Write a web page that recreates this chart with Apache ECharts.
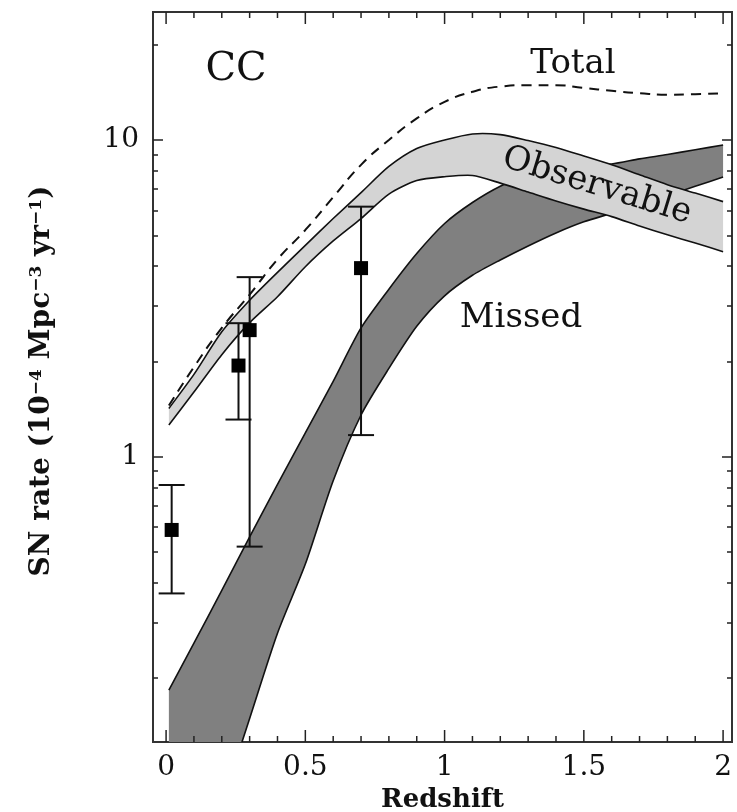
<!DOCTYPE html>
<html>
<head>
<meta charset="utf-8">
<script src="https://cdn.jsdelivr.net/npm/echarts@6/dist/echarts.min.js"></script>
<style>
  html, body { margin: 0; padding: 0; background: #fff; }
  #chart { width: 737px; height: 812px; }
</style>
</head>
<body>
<div id="chart"></div>
<script>
// redshift grid used by all the model curves
const redshift = [0.01, 0.1, 0.2, 0.3, 0.4, 0.5, 0.6, 0.7, 0.8, 0.9, 1.0, 1.1, 1.2, 1.3, 1.4, 1.5, 1.6, 1.7, 1.8, 1.9, 2.0];
const totalRate = [1.45, 1.92, 2.55, 3.25, 4.2, 5.2, 6.6, 8.35, 10.0, 11.7, 13.2, 14.2, 14.75, 14.9, 14.9, 14.6, 14.3, 14.05, 13.9, 13.95, 14.05];
const observableHigh = [1.42, 1.82, 2.48, 3.12, 3.82, 4.65, 5.65, 6.82, 8.25, 9.4, 10.0, 10.45, 10.4, 9.96, 9.47, 8.9, 8.35, 7.77, 7.23, 6.8, 6.39];
const observableLow = [1.26, 1.6, 2.1, 2.65, 3.2, 3.98, 4.8, 5.65, 6.75, 7.45, 7.66, 7.73, 7.31, 6.85, 6.42, 6.05, 5.73, 5.35, 5.02, 4.73, 4.44];
const missedHigh = [0.183, 0.258, 0.378, 0.558, 0.817, 1.19, 1.73, 2.55, 3.38, 4.38, 5.45, 6.35, 7.15, 7.75, 8.05, 8.3, 8.4, 8.72, 9.0, 9.32, 9.64];
const missedLow = [0.0245, 0.043, 0.08, 0.149, 0.277, 0.458, 0.839, 1.354, 1.9, 2.58, 3.22, 3.74, 4.18, 4.63, 5.09, 5.52, 5.87, 6.26, 6.68, 7.14, 7.64];

// measured CC rates with error bars
const obsZ = [0.02, 0.26, 0.30, 0.70];
const obsRate = [0.587, 1.94, 2.51, 3.94];
const obsErrLow = [0.37, 1.31, 0.52, 1.17];
const obsErrHigh = [0.814, 2.64, 3.69, 6.16];

// ticks
const xMajorTicks = [0, 0.5, 1, 1.5, 2];
const xMinorTicks = [0.1, 0.2, 0.3, 0.4, 0.6, 0.7, 0.8, 0.9, 1.1, 1.2, 1.3, 1.4, 1.6, 1.7, 1.8, 1.9];
const yMajorTicks = [1, 10];
const yMinorTicks = [0.2, 0.3, 0.4, 0.5, 0.6, 0.7, 0.8, 0.9, 2, 3, 4, 5, 6, 7, 8, 9, 20];

const X_MIN = -0.047, X_MAX = 2.032;
const Y_MIN = 0.1256, Y_MAX = 25.37;
const FONT = 'DejaVu Serif';
const INK = '#111';

const chart = echarts.init(document.getElementById('chart'));

function xAxisOf(position, withLabels) {
  return {
    type: 'value',
    position: position,
    min: X_MIN,
    max: X_MAX,
    axisLine: { show: false, onZero: false },
    splitLine: { show: false },
    axisTick: { show: false },
    axisLabel: withLabels
      ? { show: true, customValues: xMajorTicks, margin: 12, fontFamily: FONT, fontSize: 28, color: INK }
      : { show: false },
  };
}

function yAxisOf(position, ticks, len, withLabels) {
  return {
    type: 'log',
    logBase: 10,
    position: position,
    min: Y_MIN,
    max: Y_MAX,
    axisLine: { show: false, onZero: false },
    splitLine: { show: false },
    minorTick: { show: false },
    axisTick: { show: true, inside: true, length: len, customValues: ticks, lineStyle: { color: '#222', width: 1.5 } },
    axisLabel: withLabels
      ? { show: true, customValues: ticks, margin: 14, fontFamily: FONT, fontSize: 28, color: INK }
      : { show: false },
  };
}

// repeat the end points so the smoothed fill and the smoothed edges follow the same curve
function padEnds(pts) {
  return [pts[0]].concat(pts, [pts[pts.length - 1]]);
}

function bandRender(hi, lo, fill) {
  return function (params, api) {
    const top = padEnds(redshift.map((z, i) => api.coord([z, hi[i]])));
    const bottom = padEnds(redshift.map((z, i) => api.coord([z, lo[i]])));
    const edge = { stroke: INK, lineWidth: 1.6, fill: null };
    return {
      type: 'group',
      children: [
        { type: 'polygon', shape: { points: top.concat(bottom.slice().reverse()), smooth: 0.25 }, style: { fill: fill, stroke: null } },
        { type: 'polyline', shape: { points: top, smooth: 0.25 }, style: edge },
        { type: 'polyline', shape: { points: bottom, smooth: 0.25 }, style: edge },
      ],
    };
  };
}

const xAxes = [xAxisOf('bottom', true), xAxisOf('top', false)];
xAxes[0].name = 'Redshift';
xAxes[0].nameLocation = 'middle';
xAxes[0].nameGap = 38;
xAxes[0].nameTextStyle = { fontFamily: FONT, fontSize: 26, fontWeight: 'bold', color: INK };

const yAxes = [
  yAxisOf('left', yMajorTicks, 10, true),
  yAxisOf('left', yMinorTicks, 5, false),
  yAxisOf('right', yMajorTicks, 10, false),
  yAxisOf('right', yMinorTicks, 5, false),
];
yAxes[0].name = 'SN rate (10{sup|−4} Mpc{sup|−3} yr{sup|−1})';
yAxes[0].nameLocation = 'middle';
yAxes[0].nameRotate = 90;
yAxes[0].nameGap = 97;
yAxes[0].nameTextStyle = {
  fontFamily: FONT, fontSize: 28, fontWeight: 'bold', color: INK,
  padding: [0, 8, 0, 0],
  rich: { sup: { fontFamily: FONT, fontSize: 17, fontWeight: 'bold', color: INK, verticalAlign: 'top' } },
};

const labels = [
  { type: 'text', x: 236, y: 70, z: 20, style: { text: 'CC', font: '40px "DejaVu Serif"', fill: INK, align: 'center', verticalAlign: 'middle' } },
  { type: 'text', x: 573, y: 64, z: 20, style: { text: 'Total', font: '34px "DejaVu Serif"', fill: INK, align: 'center', verticalAlign: 'middle' } },
  { type: 'text', x: 521, y: 318, z: 20, style: { text: 'Missed', font: '34px "DejaVu Serif"', fill: INK, align: 'center', verticalAlign: 'middle' } },
  { type: 'text', x: 597, y: 186, z: 20, rotation: -17 * Math.PI / 180, style: { text: 'Observable', font: '34px "DejaVu Serif"', fill: INK, align: 'center', verticalAlign: 'middle' } },
];

const option = {
  animation: false,
  backgroundColor: '#fff',
  grid: {
    left: 153,
    right: 5,
    top: 12,
    bottom: 70,
    outerBoundsMode: 'none',
    show: true,
    borderColor: '#333',
    borderWidth: 2,
    backgroundColor: 'transparent',
  },
  xAxis: xAxes,
  yAxis: yAxes,
  graphic: labels,
  series: [
    {
      name: 'Missed',
      type: 'custom',
      clip: true,
      z: 2,
      data: [[redshift[0], missedHigh[0]]],
      renderItem: bandRender(missedHigh, missedLow, '#808080'),
    },
    {
      name: 'Observable',
      type: 'custom',
      clip: true,
      z: 3,
      data: [[redshift[0], observableHigh[0]]],
      renderItem: bandRender(observableHigh, observableLow, '#d4d4d4'),
    },
    {
      name: 'Total',
      type: 'line',
      z: 4,
      smooth: true,
      symbol: 'none',
      data: redshift.map((z, i) => [z, totalRate[i]]),
      lineStyle: { color: INK, width: 2, type: [10, 7] },
    },
    {
      name: 'errors',
      type: 'custom',
      z: 5,
      clip: true,
      data: obsZ.map((z, i) => [z, obsRate[i], obsErrLow[i], obsErrHigh[i]]),
      encode: { x: 0, y: 1 },
      renderItem: function (params, api) {
        const lo = api.coord([api.value(0), api.value(2)]);
        const hi = api.coord([api.value(0), api.value(3)]);
        const w = 13;
        const st = { stroke: INK, lineWidth: 2 };
        return {
          type: 'group',
          children: [
            { type: 'line', shape: { x1: lo[0], y1: lo[1], x2: hi[0], y2: hi[1] }, style: st },
            { type: 'line', shape: { x1: lo[0] - w, y1: lo[1], x2: lo[0] + w, y2: lo[1] }, style: st },
            { type: 'line', shape: { x1: hi[0] - w, y1: hi[1], x2: hi[0] + w, y2: hi[1] }, style: st },
          ],
        };
      },
    },
    {
      name: 'CC rate',
      type: 'scatter',
      z: 6,
      symbol: 'rect',
      symbolSize: 14,
      itemStyle: { color: '#000', opacity: 1 },
      data: obsZ.map((z, i) => [z, obsRate[i]]),
    },
  ],
};

chart.setOption(option);

// redshift ticks on the bottom and top frame, placed through the x axis scale
const tickMarks = [];
xMajorTicks.concat(xMinorTicks).forEach((v, i) => {
  const len = i < xMajorTicks.length ? 12 : 6;
  const b = chart.convertToPixel({ xAxisIndex: 0, yAxisIndex: 0 }, [v, Y_MIN]);
  const t = chart.convertToPixel({ xAxisIndex: 0, yAxisIndex: 0 }, [v, Y_MAX]);
  tickMarks.push({ type: 'rect', z: 30, silent: true, shape: { x: b[0] - 0.75, y: b[1] - len, width: 1.5, height: len }, style: { fill: '#222' } });
  tickMarks.push({ type: 'rect', z: 30, silent: true, shape: { x: t[0] - 0.75, y: t[1], width: 1.5, height: len }, style: { fill: '#222' } });
});
chart.setOption({ graphic: labels.concat(tickMarks) });
</script>
</body>
</html>
